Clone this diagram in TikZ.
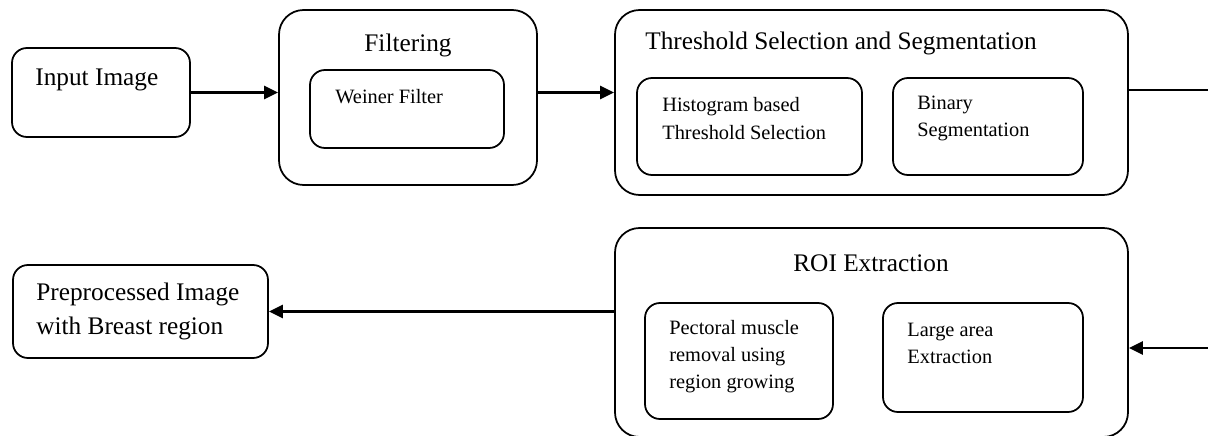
\documentclass[tikz,border=0pt]{standalone}
\usepackage{fontspec}
\setmainfont{Liberation Serif}
\usetikzlibrary{arrows.meta, fit, positioning}

\begin{document}
\begin{tikzpicture}[
    x=0.02cm, y=-0.02cm,
    outer/.style={draw, line width=1pt, rounded corners=14pt, inner sep=0pt},
    inner/.style={draw, line width=1pt, rounded corners=8.5pt, inner sep=0pt},
    caption/.style={font=\fontsize{14.4}{19.3}\selectfont, inner sep=0pt, align=left},
    small/.style={font=\fontsize{11.6}{15.4}\selectfont, inner sep=0pt, align=left},
    flow/.style={line width=1.4pt, -{Triangle[length=8pt, width=7.5pt]}},
    link/.style={line width=0.9pt},
    ]
    \clip (0,0) rectangle (1208,436);
    \node [outer, rounded corners=8.5pt, fit={(12,48) (190,137)}] (inp) {}; % input
    \node [caption, anchor=west] (inp-t) at (35,80) {Input Image};

    \node [outer, fit={(279,10) (537,185)}] (filt) {};
    \node [caption] (filt-t) at (408,45) {Filtering};
        \node [inner, fit={(310,70) (504,148)}] (wein) {};
        \node [small, anchor=west] (wein-t) at (335,97) {Weiner Filter};

    \node [outer, fit={(615,10) (1128,195)}] (thr) {};
    \node [caption, anchor=west] (thr-t) at (645,43) {Threshold Selection and Segmentation};
        \node [inner, fit={(637,78) (862,175)}] (hist) {};
        \node [small, anchor=west] (hist-t) at (662,118.5) {Histogram based\\Threshold Selection};
        \node [inner, fit={(893,78) (1083,175)}] (bin) {};
        \node [small, anchor=west] (bin-t) at (917,118.5) {Binary\\Segmentation};

    \node [outer, fit={(615,228) (1128,437)}] (roi) {};
    \node [caption] (roi-t) at (871,263) {ROI Extraction};
        \node [inner, fit={(645,303) (833,419)}] (pect) {};
        \node [small, anchor=west] (pect-t) at (669,357) {Pectoral muscle\\removal using\\region growing};
        \node [inner, fit={(883,303) (1083,412)}] (large) {};
        \node [small, anchor=west] (large-t) at (907,343.5) {Large area\\Extraction};

    \node [outer, rounded corners=8.5pt, fit={(13,265) (268,358)}] (pre) {}; % output
    \node [caption, anchor=west] (pre-t) at (36,311) {Preprocessed Image\\with Breast region};

    % connectors
    \coordinate (topend) at (1208,90);
    \coordinate (botend) at (1208,348);
    \draw [flow] (inp) -- (filt.west |- inp);
    \draw [flow] (filt.east |- inp) -- (thr.west |- inp);
    \draw [link] (thr.east |- topend) -- (topend);
    \draw [flow] (botend) -- (roi.east |- botend);
    \draw [flow] (roi.west |- pre) -- (pre);
\end{tikzpicture}
\end{document}
